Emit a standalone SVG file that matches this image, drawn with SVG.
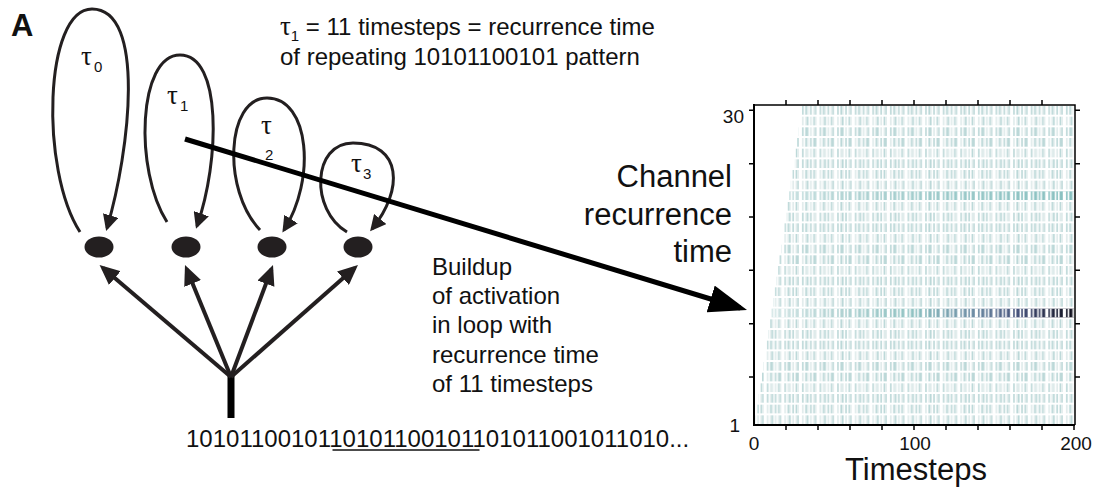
<svg xmlns="http://www.w3.org/2000/svg" width="1103" height="493" viewBox="0 0 1103 493">
<style>
  text { font-family: "Liberation Sans", Arial, sans-serif; fill: #111; }
  .lbl { font-size: 24px; }
  .tau { font-family: "Liberation Serif", "Times New Roman", serif; font-size: 27px; }
  .sub { font-size: 15px; }
  .big { font-size: 31px; }
  .num { font-size: 19px; }
  .loop { fill: none; stroke: #231f20; stroke-width: 3; marker-end: url(#loopHead); }
  .fan { fill: none; stroke: #231f20; stroke-width: 4; marker-end: url(#fanHead); }
  .node { fill: #231f20; }
  .axis { stroke: #000; stroke-width: 2; fill: none; }
  .axis2 { stroke: #000; stroke-width: 1.5; fill: none; }
  .tick { stroke: #000; stroke-width: 1.5; }
  .f { fill: #dfebeb; }
  .m { fill: #bcd8d8; }
  .w { fill: #fff; }
</style>
<defs>
  <marker id="loopHead" markerUnits="userSpaceOnUse" markerWidth="16" markerHeight="16" refX="13" refY="8" orient="auto">
    <path d="M0,0 L16,8 L0,16 z" fill="#231f20"/>
  </marker>
  <marker id="fanHead" markerUnits="userSpaceOnUse" markerWidth="20" markerHeight="18" refX="15.5" refY="9" orient="auto">
    <path d="M0,0 L20,9 L0,18 z" fill="#231f20"/>
  </marker>
  <marker id="bigHead" markerUnits="userSpaceOnUse" markerWidth="38" markerHeight="28" refX="31" refY="14" orient="auto">
    <path d="M0,0 L38,14 L0,28 z" fill="#000"/>
  </marker>

  <!-- coincidence patterns, one period of 11 timesteps (1.6 px per step) -->
  <pattern id="p1" patternUnits="userSpaceOnUse" x="754" y="0" width="17.6" height="493">
    <rect class="m" x="0" width="1.6" height="493"/><rect class="m" x="8" width="1.6" height="493"/>
    <rect class="f" x="3.2" width="1.6" height="493"/><rect class="f" x="6.4" width="1.6" height="493"/><rect class="f" x="12.8" width="1.6" height="493"/><rect class="f" x="16" width="1.6" height="493"/>
  </pattern>
  <pattern id="p2" patternUnits="userSpaceOnUse" x="754" y="0" width="17.6" height="493">
    <rect class="m" x="3.2" width="1.6" height="493"/><rect class="m" x="6.4" width="1.6" height="493"/><rect class="m" x="16" width="1.6" height="493"/>
    <rect class="f" x="0" width="1.6" height="493"/><rect class="f" x="8" width="1.6" height="493"/><rect class="f" x="12.8" width="1.6" height="493"/>
  </pattern>
  <pattern id="p3" patternUnits="userSpaceOnUse" x="754" y="0" width="17.6" height="493">
    <rect class="m" x="0" width="1.6" height="493"/><rect class="m" x="3.2" width="1.6" height="493"/><rect class="m" x="8" width="1.6" height="493"/><rect class="m" x="12.8" width="1.6" height="493"/>
    <rect class="f" x="6.4" width="1.6" height="493"/><rect class="f" x="16" width="1.6" height="493"/>
  </pattern>
  <pattern id="p4" patternUnits="userSpaceOnUse" x="754" y="0" width="17.6" height="493">
    <rect class="m" x="6.4" width="1.6" height="493"/><rect class="m" x="12.8" width="1.6" height="493"/>
    <rect class="f" x="0" width="1.6" height="493"/><rect class="f" x="3.2" width="1.6" height="493"/><rect class="f" x="8" width="1.6" height="493"/><rect class="f" x="16" width="1.6" height="493"/>
  </pattern>
  <pattern id="p5" patternUnits="userSpaceOnUse" x="754" y="0" width="17.6" height="493">
    <rect class="m" x="3.2" width="1.6" height="493"/><rect class="m" x="6.4" width="3.2" height="493"/><rect class="m" x="16" width="1.6" height="493"/>
    <rect class="f" x="0" width="1.6" height="493"/><rect class="f" x="12.8" width="1.6" height="493"/>
  </pattern>
  <pattern id="p6" patternUnits="userSpaceOnUse" x="754" y="0" width="17.6" height="493">
    <rect class="m" x="0" width="1.6" height="493"/><rect class="m" x="8" width="1.6" height="493"/><rect class="m" x="12.8" width="1.6" height="493"/><rect class="m" x="16" width="1.6" height="493"/>
    <rect class="f" x="3.2" width="1.6" height="493"/><rect class="f" x="6.4" width="1.6" height="493"/>
  </pattern>
  <pattern id="p7" patternUnits="userSpaceOnUse" x="754" y="0" width="17.6" height="493">
    <rect class="m" x="0" width="1.6" height="493"/><rect class="m" x="6.4" width="1.6" height="493"/>
    <rect class="f" x="3.2" width="1.6" height="493"/><rect class="f" x="8" width="1.6" height="493"/><rect class="f" x="12.8" width="1.6" height="493"/><rect class="f" x="16" width="1.6" height="493"/>
  </pattern>
  <pattern id="p8" patternUnits="userSpaceOnUse" x="754" y="0" width="17.6" height="493">
    <rect class="m" x="3.2" width="1.6" height="493"/><rect class="m" x="8" width="1.6" height="493"/><rect class="m" x="12.8" width="1.6" height="493"/><rect class="m" x="16" width="1.6" height="493"/>
    <rect class="f" x="0" width="1.6" height="493"/><rect class="f" x="6.4" width="1.6" height="493"/>
  </pattern>
  <pattern id="p9" patternUnits="userSpaceOnUse" x="754" y="0" width="17.6" height="493">
    <rect class="m" x="0" width="1.6" height="493"/><rect class="m" x="3.2" width="1.6" height="493"/><rect class="m" x="12.8" width="1.6" height="493"/>
    <rect class="f" x="6.4" width="3.2" height="493"/><rect class="f" x="16" width="1.6" height="493"/>
  </pattern>
  <pattern id="p10" patternUnits="userSpaceOnUse" x="754" y="0" width="17.6" height="493">
    <rect class="m" x="6.4" width="1.6" height="493"/><rect class="m" x="16" width="1.6" height="493"/>
    <rect class="f" x="0" width="1.6" height="493"/><rect class="f" x="3.2" width="1.6" height="493"/><rect class="f" x="8" width="1.6" height="493"/><rect class="f" x="12.8" width="1.6" height="493"/>
  </pattern>
  <!-- white gaps of the input pattern itself (used over graded rows) -->
  <pattern id="gap0" patternUnits="userSpaceOnUse" x="754" y="0" width="17.6" height="493">
    <rect class="w" x="1.6" width="1.6" height="493"/><rect class="w" x="4.8" width="1.6" height="493"/><rect class="w" x="9.6" width="3.2" height="493"/><rect class="w" x="14.4" width="1.6" height="493"/>
  </pattern>

  <linearGradient id="g11" gradientUnits="userSpaceOnUse" x1="754" y1="0" x2="1074" y2="0">
    <stop offset="0" stop-color="#dcebeb"/>
    <stop offset="0.25" stop-color="#b4d4d4"/>
    <stop offset="0.5" stop-color="#8fc2c2"/>
    <stop offset="0.68" stop-color="#6f8fa6"/>
    <stop offset="0.83" stop-color="#45507a"/>
    <stop offset="1" stop-color="#10101c"/>
  </linearGradient>
  <linearGradient id="g22" gradientUnits="userSpaceOnUse" x1="754" y1="0" x2="1074" y2="0">
    <stop offset="0" stop-color="#d6e8e8"/>
    <stop offset="0.3" stop-color="#b2d4d4"/>
    <stop offset="0.6" stop-color="#9ccaca"/>
    <stop offset="1" stop-color="#88c0c0"/>
  </linearGradient>
</defs>

<rect width="1103" height="493" fill="#fff"/>

<text x="11" y="36" font-size="31" font-weight="bold">A</text>

<!-- recurrent loops with their delay labels -->
<g id="loop0">
  <path class="loop" d="M80,232 C40,170 44,9 92,9 C146,9 130,150 107,228"/>
  <text class="tau" x="81" y="65">τ</text><text class="sub" x="94" y="72">0</text>
</g>
<g id="loop1">
  <path class="loop" d="M167,222 C134,170 138,55 180,55 C222,55 220,160 197,226"/>
  <text class="tau" x="167" y="104">τ</text><text class="sub" x="180" y="111">1</text>
</g>
<g id="loop2">
  <path class="loop" d="M260,230 C222,190 226,98 267,98 C310,98 316,180 284,230"/>
  <text class="tau" x="261" y="134">τ</text><text class="sub" x="265" y="160" font-size="13">2</text>
</g>
<g id="loop3">
  <path class="loop" d="M347,232 C310,210 312,143 353,143 C402,143 404,190 372,229"/>
  <text class="tau" x="351" y="172">τ</text><text class="sub" x="363" y="179">3</text>
</g>

<!-- channel units -->
<g id="unit0"><ellipse class="node" cx="99" cy="247" rx="14.5" ry="10.5"/></g>
<g id="unit1"><ellipse class="node" cx="186" cy="247" rx="14.5" ry="10.5"/></g>
<g id="unit2"><ellipse class="node" cx="272" cy="247" rx="14.5" ry="10.5"/></g>
<g id="unit3"><ellipse class="node" cx="358" cy="247" rx="14.5" ry="10.5"/></g>

<!-- input stem and fan-out -->
<g id="input">
  <rect x="227.5" y="376" width="7" height="42" fill="#000"/>
  <text class="lbl" x="186" y="447">1010110010110101100101101011001011010...</text>
  <line x1="332.5" y1="450" x2="479.5" y2="450" stroke="#111" stroke-width="1.5"/>
</g>

<g id="connectors">
  <path class="fan" d="M231,377 L103,268"/>
  <path class="fan" d="M231,377 L186.7,269.2"/>
  <path class="fan" d="M231,377 L271.4,269.2"/>
  <path class="fan" d="M231,377 L354.6,268"/>
  <line x1="185" y1="139" x2="740.3" y2="308" stroke="#000" stroke-width="5" marker-end="url(#bigHead)"/>
</g>

<g id="notes">
  <text class="lbl" x="280" y="35"><tspan class="tau" font-size="25">τ</tspan><tspan font-size="15" dy="6">1</tspan><tspan dy="-6"> = 11 timesteps = recurrence time</tspan></text>
  <text class="lbl" x="280" y="65">of repeating 10101100101 pattern</text>
  <text class="lbl" x="432" y="275">Buildup</text>
  <text class="lbl" x="432" y="304">of activation</text>
  <text class="lbl" x="432" y="333">in loop with</text>
  <text class="lbl" x="432" y="363">recurrence time</text>
  <text class="lbl" x="432" y="392">of 11 timesteps</text>
</g>

<!-- activation raster: one row per channel recurrence time -->
<g id="raster">
  <rect x="755.6" y="415.33" width="318.4" height="8.7" fill="url(#p1)"/>
  <rect x="757.2" y="404.67" width="316.8" height="8.7" fill="url(#p2)"/>
  <rect x="758.8" y="394" width="315.2" height="8.7" fill="url(#p3)"/>
  <rect x="760.4" y="383.33" width="313.6" height="8.7" fill="url(#p4)"/>
  <rect x="762" y="372.67" width="312" height="8.7" fill="url(#p5)"/>
  <rect x="763.6" y="362" width="310.4" height="8.7" fill="url(#p6)"/>
  <rect x="765.2" y="351.33" width="308.8" height="8.7" fill="url(#p7)"/>
  <rect x="766.8" y="340.67" width="307.2" height="8.7" fill="url(#p8)"/>
  <rect x="768.4" y="330" width="305.6" height="8.7" fill="url(#p9)"/>
  <rect x="770" y="319.33" width="304" height="8.7" fill="url(#p10)"/>
  <rect x="771.6" y="308.67" width="302.4" height="8.7" fill="url(#g11)"/>
  <rect x="771.6" y="308.67" width="302.4" height="8.7" fill="url(#gap0)"/>
  <rect x="773.2" y="298" width="300.8" height="8.7" fill="url(#p1)"/>
  <rect x="774.8" y="287.33" width="299.2" height="8.7" fill="url(#p2)"/>
  <rect x="776.4" y="276.67" width="297.6" height="8.7" fill="url(#p3)"/>
  <rect x="778" y="266" width="296" height="8.7" fill="url(#p4)"/>
  <rect x="779.6" y="255.33" width="294.4" height="8.7" fill="url(#p5)"/>
  <rect x="781.2" y="244.67" width="292.8" height="8.7" fill="url(#p6)"/>
  <rect x="782.8" y="234" width="291.2" height="8.7" fill="url(#p7)"/>
  <rect x="784.4" y="223.33" width="289.6" height="8.7" fill="url(#p8)"/>
  <rect x="786" y="212.67" width="288" height="8.7" fill="url(#p9)"/>
  <rect x="787.6" y="202" width="286.4" height="8.7" fill="url(#p10)"/>
  <rect x="789.2" y="191.33" width="284.8" height="8.7" fill="url(#g22)"/>
  <rect x="789.2" y="191.33" width="284.8" height="8.7" fill="url(#gap0)"/>
  <rect x="790.8" y="180.67" width="283.2" height="8.7" fill="url(#p1)"/>
  <rect x="792.4" y="170" width="281.6" height="8.7" fill="url(#p2)"/>
  <rect x="794" y="159.33" width="280" height="8.7" fill="url(#p3)"/>
  <rect x="795.6" y="148.67" width="278.4" height="8.7" fill="url(#p4)"/>
  <rect x="797.2" y="138" width="276.8" height="8.7" fill="url(#p5)"/>
  <rect x="798.8" y="127.33" width="275.2" height="8.7" fill="url(#p6)"/>
  <rect x="800.4" y="116.67" width="273.6" height="8.7" fill="url(#p7)"/>
  <rect x="802" y="106" width="272" height="8.7" fill="url(#p8)"/>
</g>

<g id="axes">
  <path class="axis" d="M754,104 V426 M753,425 H1075"/>
  <path class="axis2" d="M754,105 H1075 V425"/>
  <path class="tick" d="M749,110.3 H754 M749,163.7 H754 M749,217 H754 M749,270.3 H754 M749,323.7 H754 M749,377 H754
    M1075,110.3 H1080 M1075,163.7 H1080 M1075,217 H1080 M1075,270.3 H1080 M1075,323.7 H1080 M1075,377 H1080
    M786,100 V105 M818,100 V105 M850,100 V105 M882,100 V105 M914,100 V105 M946,100 V105 M978,100 V105 M1010,100 V105 M1042,100 V105
    M786,425 V430 M818,425 V430 M850,425 V430 M882,425 V430 M914,425 V430 M946,425 V430 M978,425 V430 M1010,425 V430 M1042,425 V430 M1074,425 V430"/>
  <text class="num" x="744" y="123" text-anchor="end">30</text>
  <text class="num" x="740" y="432" text-anchor="end">1</text>
  <text class="num" x="754" y="450" text-anchor="middle">0</text>
  <text class="num" x="915" y="450" text-anchor="middle">100</text>
  <text class="num" x="1076" y="450" text-anchor="middle">200</text>
  <text class="big" x="916" y="480" text-anchor="middle">Timesteps</text>
  <text class="big" x="732" y="187" text-anchor="end">Channel</text>
  <text class="big" x="732" y="225" text-anchor="end">recurrence</text>
  <text class="big" x="732" y="262" text-anchor="end">time</text>
</g>
</svg>
